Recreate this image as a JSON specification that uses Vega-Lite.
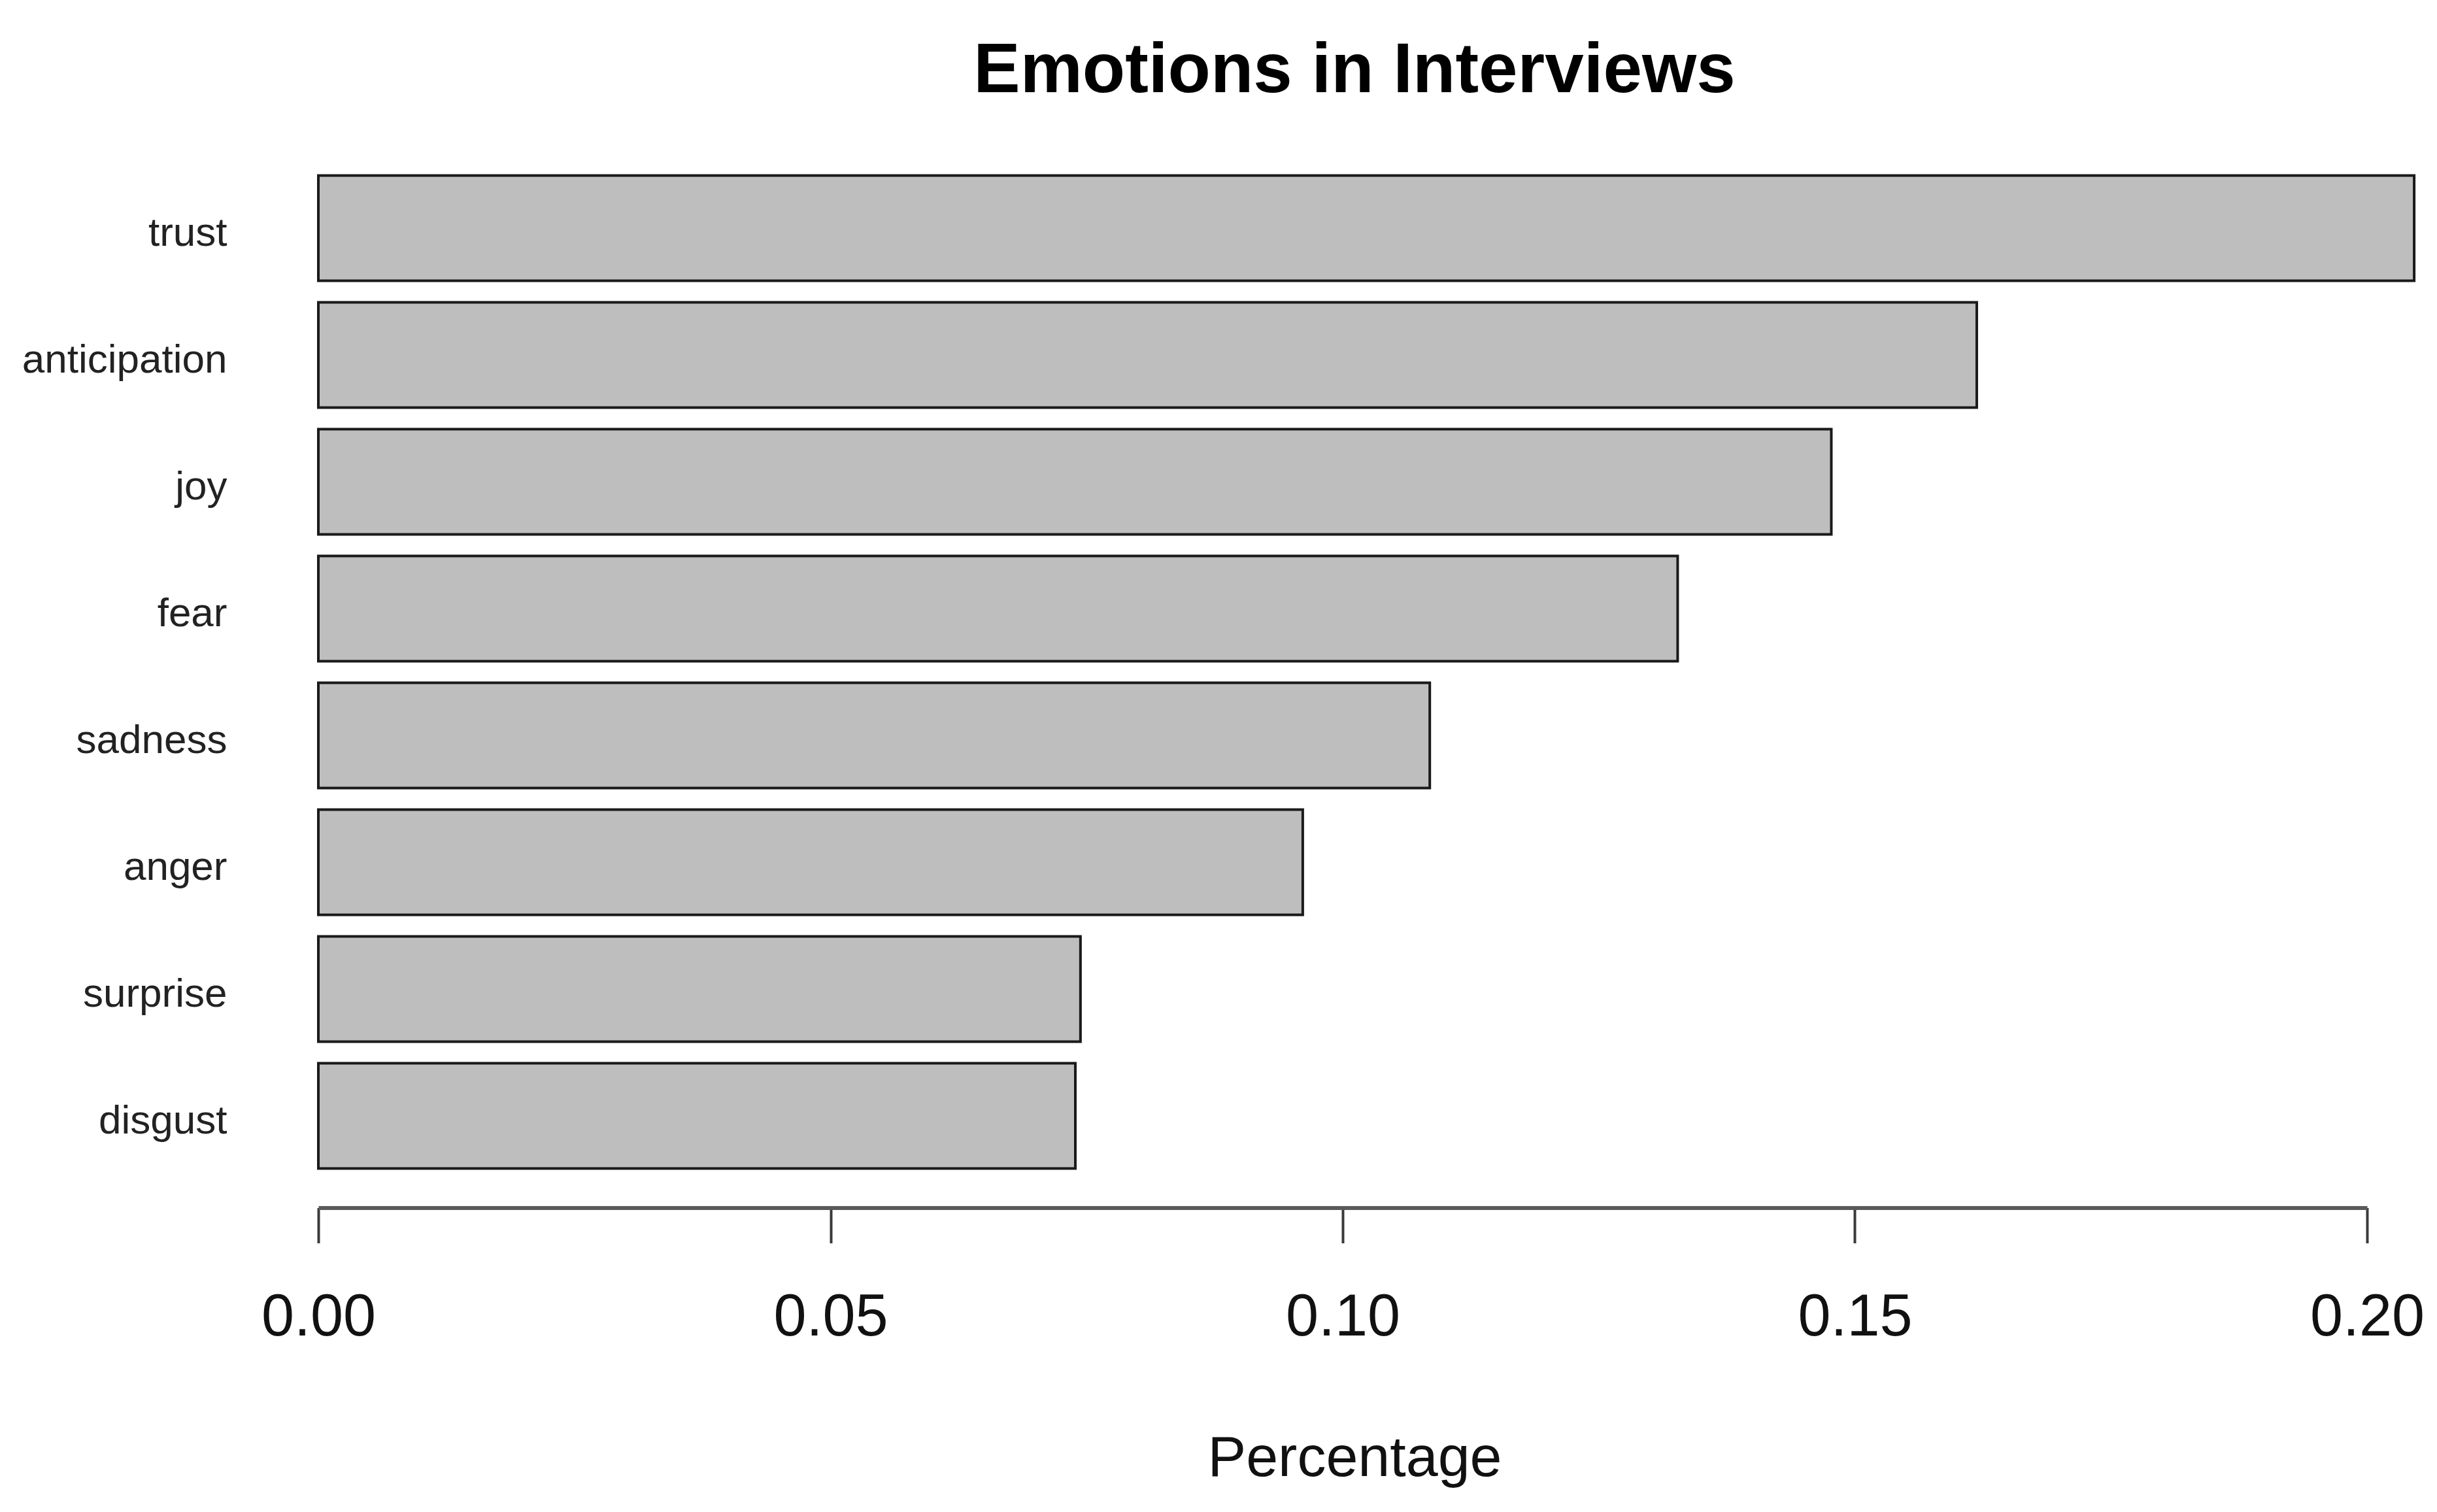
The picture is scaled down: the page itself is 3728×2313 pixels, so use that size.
{
  "$schema": "https://vega.github.io/schema/vega-lite/v6.json",
  "autosize": {"type": "none"},
  "padding": {"left": 487, "top": 252, "right": 107, "bottom": 509},
  "width": 3134,
  "height": 1552,
  "background": "white",
  "title": {
    "text": "Emotions in Interviews",
    "font": "Liberation Sans",
    "fontSize": 107,
    "fontWeight": "bold",
    "color": "#000000",
    "anchor": "middle",
    "dx": 18,
    "offset": 89
  },
  "data": {
    "values": [
      {"emotion": "trust", "pct": 0.2046},
      {"emotion": "anticipation", "pct": 0.1619},
      {"emotion": "joy", "pct": 0.1477},
      {"emotion": "fear", "pct": 0.1327},
      {"emotion": "sadness", "pct": 0.1085},
      {"emotion": "anger", "pct": 0.0961},
      {"emotion": "surprise", "pct": 0.0744},
      {"emotion": "disgust", "pct": 0.0739}
    ]
  },
  "mark": {"type": "bar", "fill": "#bebebe", "stroke": "#1a1a1a", "strokeWidth": 4, "clip": false},
  "encoding": {
    "y": {
      "field": "emotion",
      "type": "nominal",
      "sort": null,
      "scale": {"paddingInner": 0.17, "paddingOuter": 0.085},
      "axis": {
        "title": null,
        "domain": false,
        "ticks": false,
        "tickSize": 0,
        "grid": false,
        "labelFont": "Liberation Sans",
        "labelFontSize": 62,
        "labelColor": "#222222",
        "labelPadding": 140,
        "labelLimit": 0,
        "labelBaseline": "alphabetic",
        "labelOffset": 27,
        "labelAlign": "right"
      }
    },
    "x": {
      "field": "pct",
      "type": "quantitative",
      "scale": {"domain": [0, 0.2], "nice": false, "zero": true},
      "axis": {
        "title": "Percentage",
        "values": [0, 0.05, 0.1, 0.15, 0.2],
        "format": ".2f",
        "grid": false,
        "offset": 43.5,
        "domainColor": "#5a5a5a",
        "domainWidth": 6,
        "tickColor": "#3a3a3a",
        "tickWidth": 4,
        "tickSize": 54,
        "labelFont": "Liberation Sans",
        "labelFontSize": 90,
        "labelColor": "#111111",
        "labelFlush": false,
        "labelBaseline": "alphabetic",
        "labelPadding": 141,
        "titleFont": "Liberation Sans",
        "titleFontSize": 88,
        "titleFontWeight": "normal",
        "titleColor": "#111111",
        "titleBaseline": "alphabetic",
        "titleAnchor": "start",
        "titleAlign": "center",
        "titleX": 1585,
        "titleY": 410
      }
    }
  },
  "config": {"view": {"stroke": null}}
}
